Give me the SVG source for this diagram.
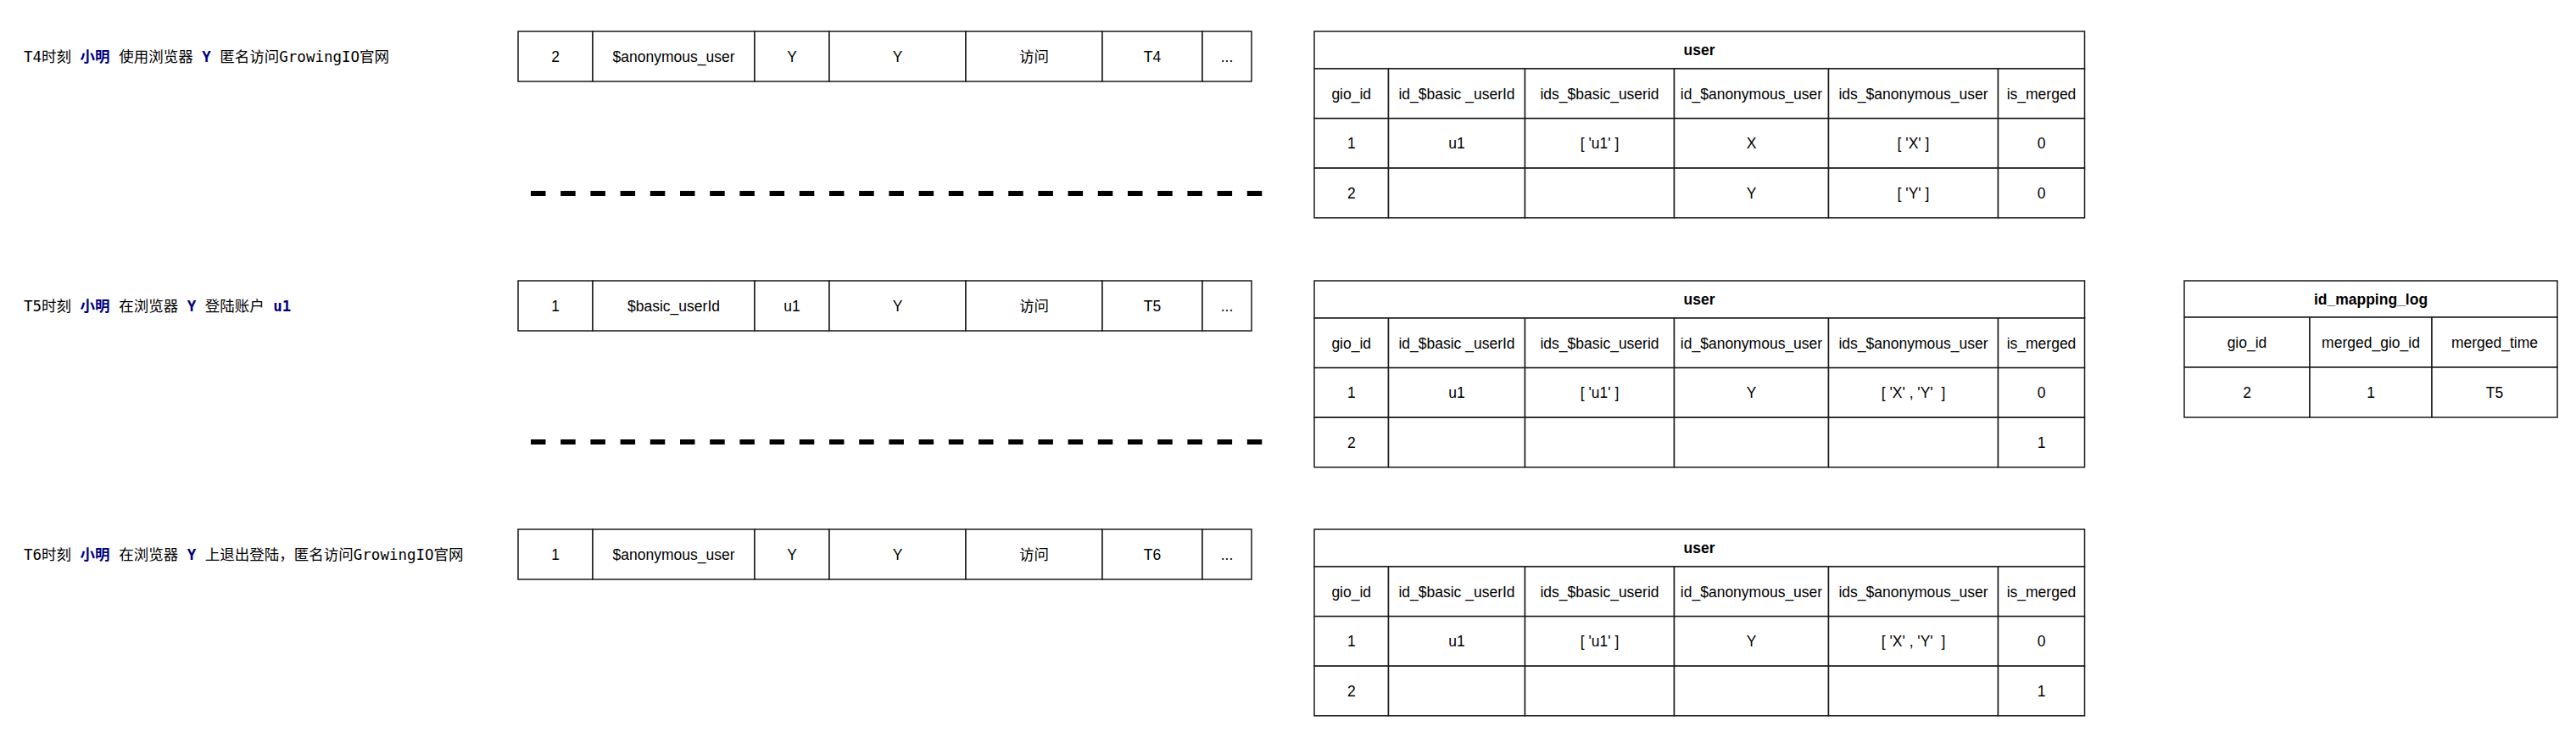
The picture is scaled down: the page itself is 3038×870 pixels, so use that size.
<svg xmlns="http://www.w3.org/2000/svg" width="3038" height="870" viewBox="0 0 3038 870">
<style>
.c{fill:#fff;stroke:#1a1a1a;stroke-width:1.5}
.t{font-family:"Liberation Sans",Arial,"Noto Sans CJK SC",sans-serif;font-size:17.5px;fill:#000;text-anchor:middle}
.h{font-weight:bold}
.lab{font-family:"DejaVu Sans Mono","Noto Sans CJK SC",monospace;font-size:17.5px;fill:#000}
.hl{font-weight:bold;fill:#00007f}
.sep{stroke:#000;stroke-width:6;stroke-dasharray:17.5 17.7;fill:none}
</style>
<rect width="3038" height="870" fill="#fff"/>

<g id="label-t4"><text class="lab" x="28" y="72.5">T4时刻 <tspan class="hl">小明</tspan> 使用浏览器 <tspan class="hl">Y</tspan> 匿名访问GrowingIO官网</text></g>
<g id="label-t5"><text class="lab" x="28" y="366.5">T5时刻 <tspan class="hl">小明</tspan> 在浏览器 <tspan class="hl">Y</tspan> 登陆账户 <tspan class="hl">u1</tspan></text></g>
<g id="label-t6"><text class="lab" x="28" y="659.5">T6时刻 <tspan class="hl">小明</tspan> 在浏览器 <tspan class="hl">Y</tspan> 上退出登陆，匿名访问GrowingIO官网</text></g>

<g id="event-t4">
<rect class="c" x="611" y="37" width="88" height="59"/><rect class="c" x="699" y="37" width="191" height="59"/><rect class="c" x="890" y="37" width="88" height="59"/><rect class="c" x="978" y="37" width="161" height="59"/><rect class="c" x="1139" y="37" width="161" height="59"/><rect class="c" x="1300" y="37" width="118" height="59"/><rect class="c" x="1418" y="37" width="58" height="59"/>
<text class="t" x="655" y="72.5">2</text><text class="t" x="794.5" y="72.5">$anonymous_user</text><text class="t" x="934" y="72.5">Y</text><text class="t" x="1058.5" y="72.5">Y</text><text class="t" x="1219.5" y="72.5">访问</text><text class="t" x="1359" y="72.5">T4</text><text class="t" x="1447" y="72.5">...</text>
</g>
<g id="event-t5">
<rect class="c" x="611" y="331" width="88" height="59"/><rect class="c" x="699" y="331" width="191" height="59"/><rect class="c" x="890" y="331" width="88" height="59"/><rect class="c" x="978" y="331" width="161" height="59"/><rect class="c" x="1139" y="331" width="161" height="59"/><rect class="c" x="1300" y="331" width="118" height="59"/><rect class="c" x="1418" y="331" width="58" height="59"/>
<text class="t" x="655" y="366.5">1</text><text class="t" x="794.5" y="366.5">$basic_userId</text><text class="t" x="934" y="366.5">u1</text><text class="t" x="1058.5" y="366.5">Y</text><text class="t" x="1219.5" y="366.5">访问</text><text class="t" x="1359" y="366.5">T5</text><text class="t" x="1447" y="366.5">...</text>
</g>
<g id="event-t6">
<rect class="c" x="611" y="624" width="88" height="59"/><rect class="c" x="699" y="624" width="191" height="59"/><rect class="c" x="890" y="624" width="88" height="59"/><rect class="c" x="978" y="624" width="161" height="59"/><rect class="c" x="1139" y="624" width="161" height="59"/><rect class="c" x="1300" y="624" width="118" height="59"/><rect class="c" x="1418" y="624" width="58" height="59"/>
<text class="t" x="655" y="659.5">1</text><text class="t" x="794.5" y="659.5">$anonymous_user</text><text class="t" x="934" y="659.5">Y</text><text class="t" x="1058.5" y="659.5">Y</text><text class="t" x="1219.5" y="659.5">访问</text><text class="t" x="1359" y="659.5">T6</text><text class="t" x="1447" y="659.5">...</text>
</g>

<defs>
<g id="userhead">
<rect class="c" x="1550" y="0" width="908.5" height="44"/>
<text class="t h" x="2004" y="28">user</text>
<rect class="c" x="1550" y="44" width="87.5" height="58.6"/><rect class="c" x="1637.5" y="44" width="161" height="58.6"/><rect class="c" x="1798.5" y="44" width="176" height="58.6"/><rect class="c" x="1974.5" y="44" width="182" height="58.6"/><rect class="c" x="2156.5" y="44" width="200" height="58.6"/><rect class="c" x="2356.5" y="44" width="102" height="58.6"/>
<text class="t" x="1593.75" y="79.5">gio_id</text><text class="t" x="1718" y="79.5">id_$basic _userId</text><text class="t" x="1886.5" y="79.5">ids_$basic_userid</text><text class="t" x="2065.5" y="79.5">id_$anonymous_user</text><text class="t" x="2256.5" y="79.5">ids_$anonymous_user</text><text class="t" x="2407.5" y="79.5">is_merged</text>
<rect class="c" x="1550" y="102.6" width="87.5" height="58.6"/><rect class="c" x="1637.5" y="102.6" width="161" height="58.6"/><rect class="c" x="1798.5" y="102.6" width="176" height="58.6"/><rect class="c" x="1974.5" y="102.6" width="182" height="58.6"/><rect class="c" x="2156.5" y="102.6" width="200" height="58.6"/><rect class="c" x="2356.5" y="102.6" width="102" height="58.6"/>
<rect class="c" x="1550" y="161.2" width="87.5" height="58.6"/><rect class="c" x="1637.5" y="161.2" width="161" height="58.6"/><rect class="c" x="1798.5" y="161.2" width="176" height="58.6"/><rect class="c" x="1974.5" y="161.2" width="182" height="58.6"/><rect class="c" x="2156.5" y="161.2" width="200" height="58.6"/><rect class="c" x="2356.5" y="161.2" width="102" height="58.6"/>
</g>
</defs>

<g id="user-t4" transform="translate(0,37)">
<use href="#userhead"/>
<text class="t" x="1593.75" y="138">1</text><text class="t" x="1718" y="138">u1</text><text class="t" x="1886.5" y="138" xml:space="preserve">[ 'u1' ]</text><text class="t" x="2065.5" y="138">X</text><text class="t" x="2256.5" y="138" xml:space="preserve">[ 'X' ]</text><text class="t" x="2407.5" y="138">0</text>
<text class="t" x="1593.75" y="196.5">2</text><text class="t" x="2065.5" y="196.5">Y</text><text class="t" x="2256.5" y="196.5" xml:space="preserve">[ 'Y' ]</text><text class="t" x="2407.5" y="196.5">0</text>
</g>
<g id="user-t5" transform="translate(0,331)">
<use href="#userhead"/>
<text class="t" x="1593.75" y="138">1</text><text class="t" x="1718" y="138">u1</text><text class="t" x="1886.5" y="138" xml:space="preserve">[ 'u1' ]</text><text class="t" x="2065.5" y="138">Y</text><text class="t" x="2256.5" y="138" xml:space="preserve">[ 'X' , 'Y'  ]</text><text class="t" x="2407.5" y="138">0</text>
<text class="t" x="1593.75" y="196.5">2</text><text class="t" x="2407.5" y="196.5">1</text>
</g>
<g id="user-t6" transform="translate(0,624)">
<use href="#userhead"/>
<text class="t" x="1593.75" y="138">1</text><text class="t" x="1718" y="138">u1</text><text class="t" x="1886.5" y="138" xml:space="preserve">[ 'u1' ]</text><text class="t" x="2065.5" y="138">Y</text><text class="t" x="2256.5" y="138" xml:space="preserve">[ 'X' , 'Y'  ]</text><text class="t" x="2407.5" y="138">0</text>
<text class="t" x="1593.75" y="196.5">2</text><text class="t" x="2407.5" y="196.5">1</text>
</g>

<g id="id-mapping-log">
<rect class="c" x="2576" y="331" width="440" height="43"/>
<text class="t h" x="2796" y="358.5">id_mapping_log</text>
<rect class="c" x="2576" y="374" width="148" height="59"/><rect class="c" x="2724" y="374" width="144" height="59"/><rect class="c" x="2868" y="374" width="148" height="59"/>
<rect class="c" x="2576" y="433" width="148" height="59"/><rect class="c" x="2724" y="433" width="144" height="59"/><rect class="c" x="2868" y="433" width="148" height="59"/>
<text class="t" x="2650" y="409.5">gio_id</text><text class="t" x="2796" y="409.5">merged_gio_id</text><text class="t" x="2942" y="409.5">merged_time</text>
<text class="t" x="2650" y="468.5">2</text><text class="t" x="2796" y="468.5">1</text><text class="t" x="2942" y="468.5">T5</text>
</g>

<g id="separators">
<line class="sep" x1="626" y1="228" x2="1489" y2="228"/>
<line class="sep" x1="626" y1="521" x2="1489" y2="521"/>
</g>
</svg>
